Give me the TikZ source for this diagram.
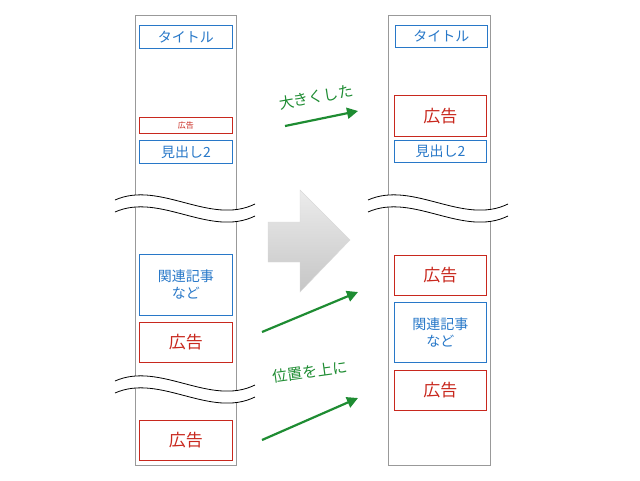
\documentclass[tikz,border=0pt]{standalone}
\usepackage{fontspec}
\setmainfont{Noto Sans CJK JP}
\usetikzlibrary{arrows.meta}
\definecolor{bl}{RGB}{40,120,200}
\definecolor{rd}{RGB}{200,40,30}
\definecolor{gr}{RGB}{30,140,50}
\begin{document}
\begin{tikzpicture}[x=1pt,y=-1pt,
 col/.style={draw=gray!80,line width=0.8pt},
 bbox/.style={draw=bl,line width=0.9pt,text=bl,font=\fontsize{14}{17}\selectfont,align=center},
 rbox/.style={draw=rd,line width=0.9pt,text=rd,font=\fontsize{17}{20}\selectfont},
 garr/.style={draw=gr,line width=2.2pt,-{Triangle[length=11pt,width=11pt]}},
 gtext/.style={text=gr,font=\fontsize{15}{18}\selectfont}]
\useasboundingbox (0,0) rectangle (640,480);
\node[col,minimum width=101,minimum height=450,anchor=north west,inner sep=0] (L) at (135,15) {};
\node[col,minimum width=102,minimum height=450,anchor=north west,inner sep=0] (R) at (388,15) {};
\newcommand\bx[6]{\node[#1,minimum width=#4-#2,minimum height=#5-#3,inner sep=0,anchor=north west] at (#2,#3) {#6};}
% left
\node[bbox,minimum width=93,minimum height=23,inner sep=0,anchor=north west] (lt) at (139,25) {タイトル};
\node[rbox,minimum width=93,minimum height=16,inner sep=0,anchor=north west,font=\fontsize{8}{9}\selectfont] (la) at (139,117) {広告};
\node[bbox,minimum width=93,minimum height=23,inner sep=0,anchor=north west] (lh) at (139,140) {見出し2};
\node[bbox,minimum width=93,minimum height=61,inner sep=0,anchor=north west] (lk) at (139,254) {関連記事\\など};
\node[rbox,minimum width=93,minimum height=40,inner sep=0,anchor=north west] (la2) at (139,322) {広告};
\node[rbox,minimum width=93,minimum height=40,inner sep=0,anchor=north west] (la3) at (139,420) {広告};
% right
\node[bbox,minimum width=92,minimum height=22,inner sep=0,anchor=north west] (rt) at (395,25) {タイトル};
\node[rbox,minimum width=92,minimum height=41,inner sep=0,anchor=north west] (ra) at (394,95) {広告};
\node[bbox,minimum width=92,minimum height=22,inner sep=0,anchor=north west] (rh) at (394,140) {見出し2};
\node[rbox,minimum width=92,minimum height=40,inner sep=0,anchor=north west] (ra2) at (394,255) {広告};
\node[bbox,minimum width=92,minimum height=60,inner sep=0,anchor=north west] (rk) at (394,302) {関連記事\\など};
\node[rbox,minimum width=92,minimum height=40,inner sep=0,anchor=north west] (ra3) at (394,370) {広告};
% waves
\foreach \xa/\ya in {115/194, 115/375, 368/194}{
  \fill[white] (\xa,\ya+6) .. controls (\xa+45,\ya-14) and (\xa+95,\ya+32) .. (\xa+140,\ya+10)
     -- (\xa+140,\ya+22) .. controls (\xa+95,\ya+44) and (\xa+45,\ya-2) .. (\xa,\ya+18) -- cycle;
  \draw[line width=0.8pt] (\xa,\ya+6) .. controls (\xa+45,\ya-14) and (\xa+95,\ya+32) .. (\xa+140,\ya+10);
  \draw[line width=0.8pt] (\xa,\ya+18) .. controls (\xa+45,\ya-2) and (\xa+95,\ya+44) .. (\xa+140,\ya+22);
}
% big arrow
\shade[top color=gray!15,bottom color=gray!45,draw=gray!30]
 (268,222) -- (300,222) -- (300,190) -- (350,240) -- (300,292) -- (300,262) -- (268,262) -- cycle;
% green arrows
\coordinate (g1a) at (285,126); \coordinate (g1b) at (358,111);
\coordinate (g2a) at (262,332); \coordinate (g2b) at (358,292);
\coordinate (g3a) at (262,440); \coordinate (g3b) at (358,398);
\draw[garr] (g1a) -- (g1b);
\draw[garr] (g2a) -- (g2b);
\draw[garr] (g3a) -- (g3b);
\node[gtext,rotate=10] (t1) at (316,97) {大きくした};
\node[gtext,rotate=8] (t2) at (310,372) {位置を上に};
\end{tikzpicture}
\end{document}
